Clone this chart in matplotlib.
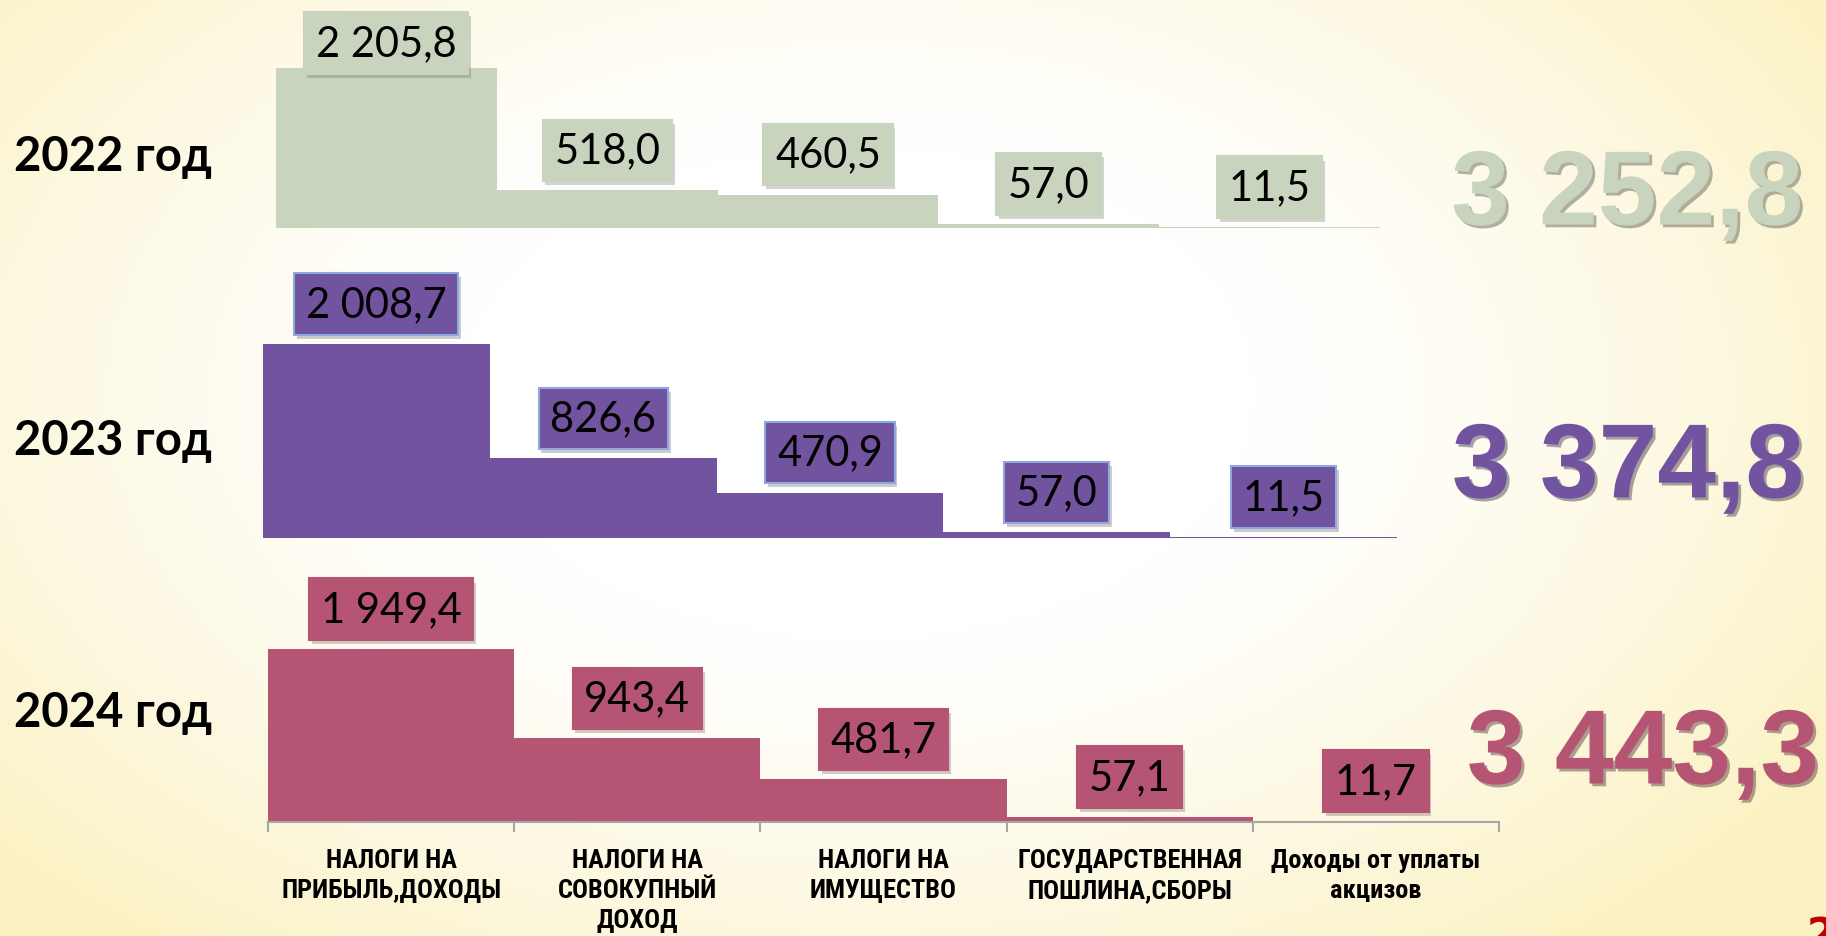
import numpy as np
import matplotlib
matplotlib.use('Agg')
import matplotlib.pyplot as plt
import matplotlib.patheffects as pe
from matplotlib import font_manager

categories = ['НАЛОГИ НА\nПРИБЫЛЬ,ДОХОДЫ', 'НАЛОГИ НА\nСОВОКУПНЫЙ\nДОХОД',
              'НАЛОГИ НА\nИМУЩЕСТВО', 'ГОСУДАРСТВЕННАЯ\nПОШЛИНА,СБОРЫ',
              'Доходы от уплаты\nакцизов']
years = ['2022 год', '2023 год', '2024 год']
values_2022 = [2205.8, 518.0, 460.5, 57.0, 11.5]
values_2023 = [2008.7, 826.6, 470.9, 57.0, 11.5]
values_2024 = [1949.4, 943.4, 481.7, 57.1, 11.7]
totals = ['3 252,8', '3 374,8', '3 443,3']

colors = ['#C9D4BF', '#7253A0', '#B55473']
box_edges = [None, '#8EA9DB', None]

W, H, DPI = 1826, 937, 100
# panel layout in pixels: left, right, top of tallest bar, baseline
panels = [(276, 1380, 69, 229), (263, 1397, 345, 539), (268, 1499, 650, 823)]
year_y = [157, 441, 713]
total_xy = [(1627, 198), (1628, 471), (1643, 757)]

NUM_FONT = ['Lato', 'DejaVu Sans']

# narrow font for the category labels if there is one
installed = {f.name for f in font_manager.fontManager.ttflist}
if 'Liberation Sans Narrow' in installed:
    CAT_FONT, CAT_SIZE = ['Liberation Sans Narrow', 'DejaVu Sans'], 19
elif 'Roboto Condensed' in installed:
    CAT_FONT, CAT_SIZE = ['Roboto Condensed', 'DejaVu Sans'], 19
else:
    CAT_FONT, CAT_SIZE = ['Roboto', 'DejaVu Sans'], 15


def fmt(v):
    return f'{v:,.1f}'.replace(',', ' ').replace('.', ',')


fig = plt.figure(figsize=(W / DPI, H / DPI), dpi=DPI)

# background: pale yellow with a white centre
bg = fig.add_axes([0, 0, 1, 1], zorder=-10)
yy, xx = np.mgrid[0:1:200j, 0:1:400j]
d = np.sqrt(((xx - 0.47) / 0.62) ** 2 + ((yy - 0.42) / 0.75) ** 2)
t = np.clip((d - 0.35) / 0.65, 0, 1) ** 1.3
white = np.array([1.0, 1.0, 1.0])
yellow = np.array([251, 242, 196]) / 255
img = white[None, None, :] * (1 - t[..., None]) + yellow[None, None, :] * t[..., None]
bg.imshow(img, aspect='auto', extent=[0, 1, 0, 1], origin='upper')
bg.axis('off')

series = [values_2022, values_2023, values_2024]
x = np.arange(len(categories))

for i, (vals, color) in enumerate(zip(series, colors)):
    left, right, top, base = panels[i]
    ax = fig.add_axes([left / W, 1 - base / H, (right - left) / W, (base - top) / H])
    ax.set_facecolor('none')
    ax.bar(x, vals, width=1.0, color=color, linewidth=0)
    ax.set_xlim(-0.5, len(categories) - 0.5)
    ax.set_ylim(0, max(vals))
    ax.set_yticks([])
    for s in ax.spines.values():
        s.set_visible(False)

    if i == 2:
        ax.spines['bottom'].set_visible(True)
        ax.spines['bottom'].set_color('#A6A6A6')
        ax.spines['bottom'].set_linewidth(1.5)
        ax.set_xticks(x)
        ax.set_xticklabels(categories, fontsize=CAT_SIZE, fontweight='bold',
                           family=CAT_FONT, linespacing=1.3)
        ax.tick_params(axis='x', which='major', length=0, pad=19)
        ax.set_xticks(np.arange(-0.5, len(categories)), minor=True)
        ax.tick_params(axis='x', which='minor', length=7, width=1.5,
                       color='#A6A6A6')
    else:
        ax.set_xticks([])

    for xi, v in zip(x, vals):
        top_px = ax.transData.transform((xi, v))[1]
        center_px = min(top_px + 40, H - 44)
        off = (center_px - top_px) * 72 / DPI
        edge = box_edges[i] or color
        txt = ax.annotate(fmt(v), (xi, v), xytext=(0, off),
                          textcoords='offset points', ha='center', va='center',
                          fontsize=30, family=NUM_FONT, color='black',
                          annotation_clip=False,
                          bbox=dict(boxstyle='square,pad=0.28', fc=color,
                                    ec=edge, lw=1.5))
        txt.get_bbox_patch().set_path_effects(
            [pe.SimplePatchShadow(offset=(2, -3), alpha=0.22), pe.Normal()])

    fig.text(14 / W, 1 - year_y[i] / H, years[i], fontsize=34, fontweight='bold',
             family=NUM_FONT, ha='left', va='center')

    tx, ty = total_xy[i]
    fig.text(tx / W, 1 - ty / H, totals[i], fontsize=76, fontweight='bold',
             family=['Liberation Sans', 'DejaVu Sans'], color=color,
             ha='center', va='center',
             path_effects=[pe.SimplePatchShadow(offset=(2, -2), alpha=0.4),
                           pe.Normal()])

# page number, cut off at the corner as on the slide
fig.text(1807 / W, 1 - 915 / H, '2', fontsize=30, fontweight='bold',
         color='#C00000', ha='left', va='top')

fig.savefig('out.png', dpi=DPI)
